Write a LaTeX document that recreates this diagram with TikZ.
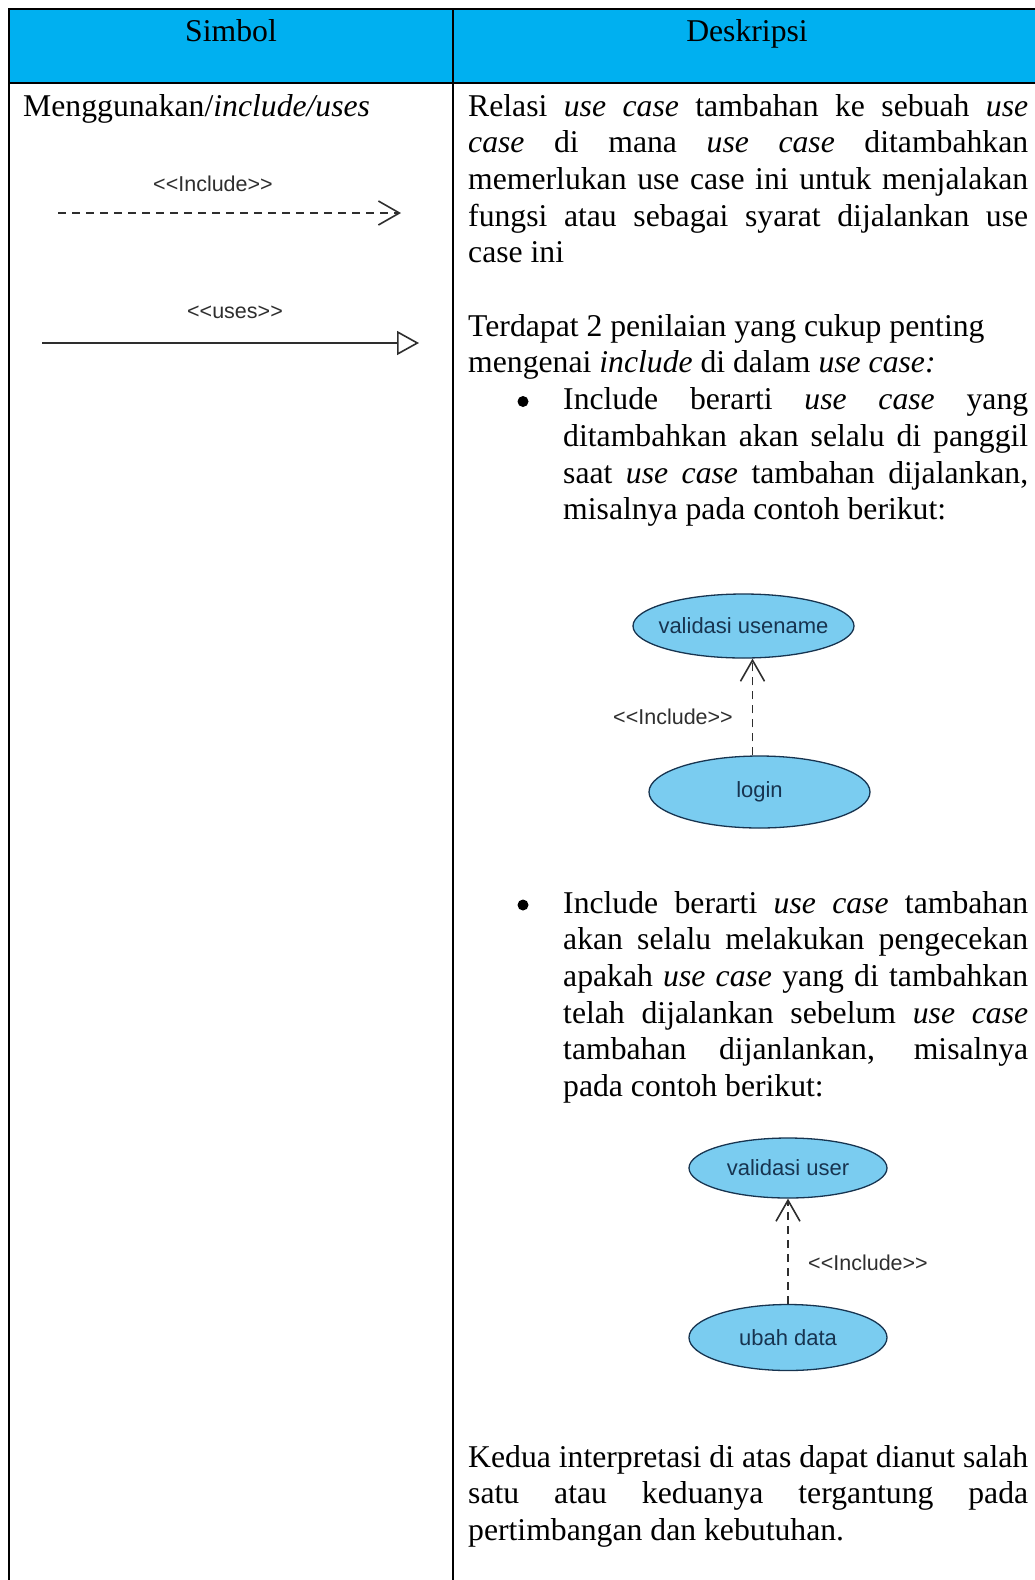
\documentclass[tikz,border=0pt]{standalone}
\usepackage{fontspec}
\setmainfont{Liberation Serif}
\newfontfamily\ucfont{Liberation Sans}
\usetikzlibrary{arrows.meta,shapes.geometric}
\definecolor{headcyan}{HTML}{00B0F0}
\definecolor{ucfill}{HTML}{7ACCF0}
\definecolor{ucline}{HTML}{173450}
\definecolor{ucgray}{HTML}{2E2E2E}
\tikzset{
 txt/.style={anchor=base west,inner sep=0pt,font=\fontsize{31.7}{36.7}\selectfont},
 dot/.style={circle,fill,inner sep=0pt,minimum size=11pt},
 usecase/.style={ellipse,draw=ucline,line width=1.3pt,fill=ucfill,inner xsep=-20pt,inner ysep=0pt,font=\ucfont\fontsize{22}{24}\selectfont,text=ucline},
 stereo/.style={inner sep=0pt,font=\ucfont\fontsize{21.5}{24}\selectfont,text=ucgray},
 incl/.style={draw=ucgray,line width=1.6pt,dash pattern=on 8pt off 6pt,-{Straight Barb[length=21pt,width=24pt,line width=1.6pt]}},
 uses/.style={draw=ucgray,line width=1.6pt,-{Triangle[open,length=22pt,width=24pt,fill=white]}}
}
\newcommand\js[2]{\makebox[#1][s]{#2}}
\begin{document}
\begin{tikzpicture}[x=1pt,y=-1pt]
 \useasboundingbox (0,0) rectangle (1035,1580);
 \clip (0,0) rectangle (1035,1580);
 \fill[headcyan] (9,9) rectangle (1040,83);
 \draw[line width=2.5pt] (1040,9) -- (9,9) -- (9,1590) (453,9) -- (453,1590) (9,83) -- (1040,83);
 \node[txt,anchor=base] (simbol) at (231,41) {Simbol};
 \node[txt,anchor=base] (deskripsi) at (747,41) {Deskripsi};
 \node[txt] (jenis) at (23,116) {Menggunakan/\textit{include/uses}};
 % simbol
 \node[stereo] (inclab) at (213,184) {{<}{<}Include{>}{>}};
 \coordinate (i1) at (58,213); \coordinate (i2) at (401,213);
 \draw[incl] (i1) -- (i2);
 \node[stereo] (uselab) at (235,312) {{<}{<}uses{>}{>}};
 \coordinate (u1) at (42,343); \coordinate (u2) at (419,343);
 \draw[uses] (u1) -- (u2);
 % deskripsi
 \node[txt] (p1a) at (468,116) {\js{560pt}{Relasi \textit{use case} tambahan ke sebuah \textit{use}}};
 \node[txt] (p1b) at (468,152.7) {\js{560pt}{\textit{case} di mana \textit{use case} ditambahkan}};
 \node[txt] (p1c) at (468,189.4) {\js{560pt}{memerlukan use case ini untuk menjalakan}};
 \node[txt] (p1d) at (468,226.1) {\js{560pt}{fungsi atau sebagai syarat dijalankan use}};
 \node[txt] (p1e) at (468,262.8) {case ini};
 \node[txt] (p2a) at (468,336.2) {Terdapat 2 penilaian yang cukup penting};
 \node[txt] (p2b) at (468,372.9) {mengenai \textit{include} di dalam \textit{use case:}};
 \node[dot] (b1) at (523,401.5) {};
 \node[txt] (b1a) at (563,409.6) {\js{465pt}{Include berarti \textit{use case} yang}};
 \node[txt] (b1b) at (563,446.3) {\js{465pt}{ditambahkan akan selalu di panggil}};
 \node[txt] (b1c) at (563,483) {\js{465pt}{saat \textit{use case} tambahan dijalankan,}};
 \node[txt] (b1d) at (563,519.7) {misalnya pada contoh berikut:};
 \node[usecase,minimum width=221pt,minimum height=64pt] (valname) at (743.5,626) {validasi usename};
 \node[usecase,minimum width=221pt,minimum height=72pt] (login) at (759.5,792) {login};
 \draw[incl] ([xshift=-7pt]login.north) -- ([xshift=9pt]valname.south);
 \node[stereo] (inc1) at (673,717) {{<}{<}Include{>}{>}};
 \node[dot] (b2) at (523,905) {};
 \node[txt] (b2a) at (563,913) {\js{465pt}{Include berarti \textit{use case} tambahan}};
 \node[txt] (b2b) at (563,949.7) {\js{465pt}{akan selalu melakukan pengecekan}};
 \node[txt] (b2c) at (563,986.4) {\js{465pt}{apakah \textit{use case} yang di tambahkan}};
 \node[txt] (b2d) at (563,1023.1) {\js{465pt}{telah dijalankan sebelum \textit{use case}}};
 \node[txt] (b2e) at (563,1059.8) {\js{465pt}{tambahan dijanlankan, misalnya}};
 \node[txt] (b2f) at (563,1096.5) {pada contoh berikut:};
 \node[usecase,minimum width=198pt,minimum height=60pt] (valuser) at (788,1168) {validasi user};
 \node[usecase,minimum width=198pt,minimum height=66pt] (ubah) at (788,1337.5) {ubah data};
 \draw[incl] (ubah) -- (valuser);
 \node[stereo] (inc2) at (868,1263) {{<}{<}Include{>}{>}};
 \node[txt] (p3a) at (468,1467) {\js{560pt}{Kedua interpretasi di atas dapat dianut salah}};
 \node[txt] (p3b) at (468,1503.7) {\js{560pt}{satu atau keduanya tergantung pada}};
 \node[txt] (p3c) at (468,1540.4) {pertimbangan dan kebutuhan.};
\end{tikzpicture}
\end{document}
